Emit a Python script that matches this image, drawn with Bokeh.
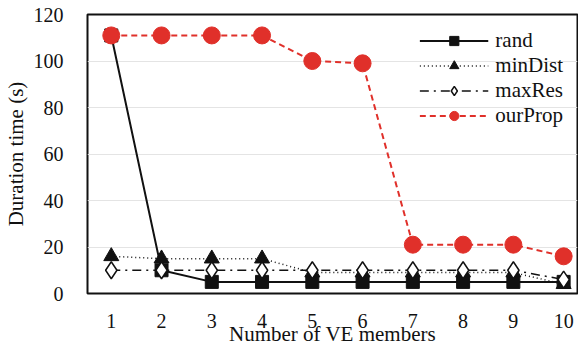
from bokeh.plotting import figure
from bokeh.embed import file_html
from bokeh.resources import INLINE
from bokeh.models import Range1d, FixedTicker, Legend, LegendItem

members = [1, 2, 3, 4, 5, 6, 7, 8, 9, 10]
rand = [111, 10, 5, 5, 5, 5, 5, 5, 5, 5]
min_dist = [16, 15, 15, 15, 9, 9, 9, 9, 9, 4]
max_res = [10, 10, 10, 10, 10, 10, 10, 10, 10, 6]
our_prop = [111, 111, 111, 111, 100, 99, 21, 21, 21, 16]
y_ticks = [0, 20, 40, 60, 80, 100, 120]

FONT = "Liberation Serif"
RED = "#e0302a"

p = figure(width=578, height=353, output_backend="svg", toolbar_location=None,
           x_range=Range1d(0.527, 10.276), y_range=Range1d(0, 120),
           min_border_left=82, min_border_top=14, min_border_bottom=60, min_border_right=1,
           margin=(0, 0, 0, 0))

p.outline_line_color = "#111111"
p.outline_line_width = 2
p.xgrid.grid_line_color = None
p.ygrid.grid_line_color = "#e4e4e4"
p.ygrid.grid_line_width = 1

for ax in (p.xaxis[0], p.yaxis[0]):
    ax.axis_line_color = None
    ax.major_tick_line_color = None
    ax.minor_tick_line_color = None
    ax.major_label_text_font = FONT
    ax.major_label_text_font_size = "20px"
    ax.major_label_text_color = "#111111"
    ax.axis_label_text_font = FONT
    ax.axis_label_text_font_size = "21px"
    ax.axis_label_text_font_style = "normal"
    ax.axis_label_text_color = "#111111"

p.xaxis.ticker = FixedTicker(ticks=members)
p.yaxis.ticker = FixedTicker(ticks=y_ticks)
p.xaxis.axis_label = "Number of VE members"
p.yaxis.axis_label = "Duration time (s)"
p.xaxis.major_label_standoff = 14
p.xaxis.axis_label_standoff = -9
p.yaxis.major_label_standoff = 18
p.yaxis.axis_label_standoff = 3

l1 = p.line(members, rand, line_color="#111111", line_width=2)
m1 = p.scatter(members, rand, marker="square", size=13, fill_color="#111111", line_color="#111111")
l2 = p.line(members, min_dist, line_color="#111111", line_width=1.5, line_dash="1 3")
m2 = p.scatter(members, min_dist, marker="triangle", size=15, fill_color="#111111", line_color="#111111")
l3 = p.line(members, max_res, line_color="#111111", line_width=1.5, line_dash="9 5 2 5")
m3 = p.scatter(members, max_res, marker="diamond", size=17, fill_color="white", line_color="#111111", line_width=1.5)
l4 = p.line(members, our_prop, line_color=RED, line_width=2, line_dash="6 4")
m4 = p.scatter(members, our_prop, marker="circle", size=17, fill_color=RED, line_color=RED)

legend = Legend(items=[
    LegendItem(label="rand", renderers=[l1, m1]),
    LegendItem(label="minDist", renderers=[l2, m2]),
    LegendItem(label="maxRes", renderers=[l3, m3]),
    LegendItem(label="ourProp", renderers=[l4, m4]),
], location="top_right")
legend.background_fill_alpha = 0
legend.border_line_color = None
legend.label_text_font = FONT
legend.label_text_font_size = "21px"
legend.label_text_color = "#111111"
legend.glyph_width = 69
legend.glyph_height = 23
legend.label_height = 23
legend.spacing = -1
legend.padding = 1
legend.margin = 14
legend.label_standoff = 7
p.add_layout(legend)

open("out.html", "w").write(file_html(p, INLINE))
